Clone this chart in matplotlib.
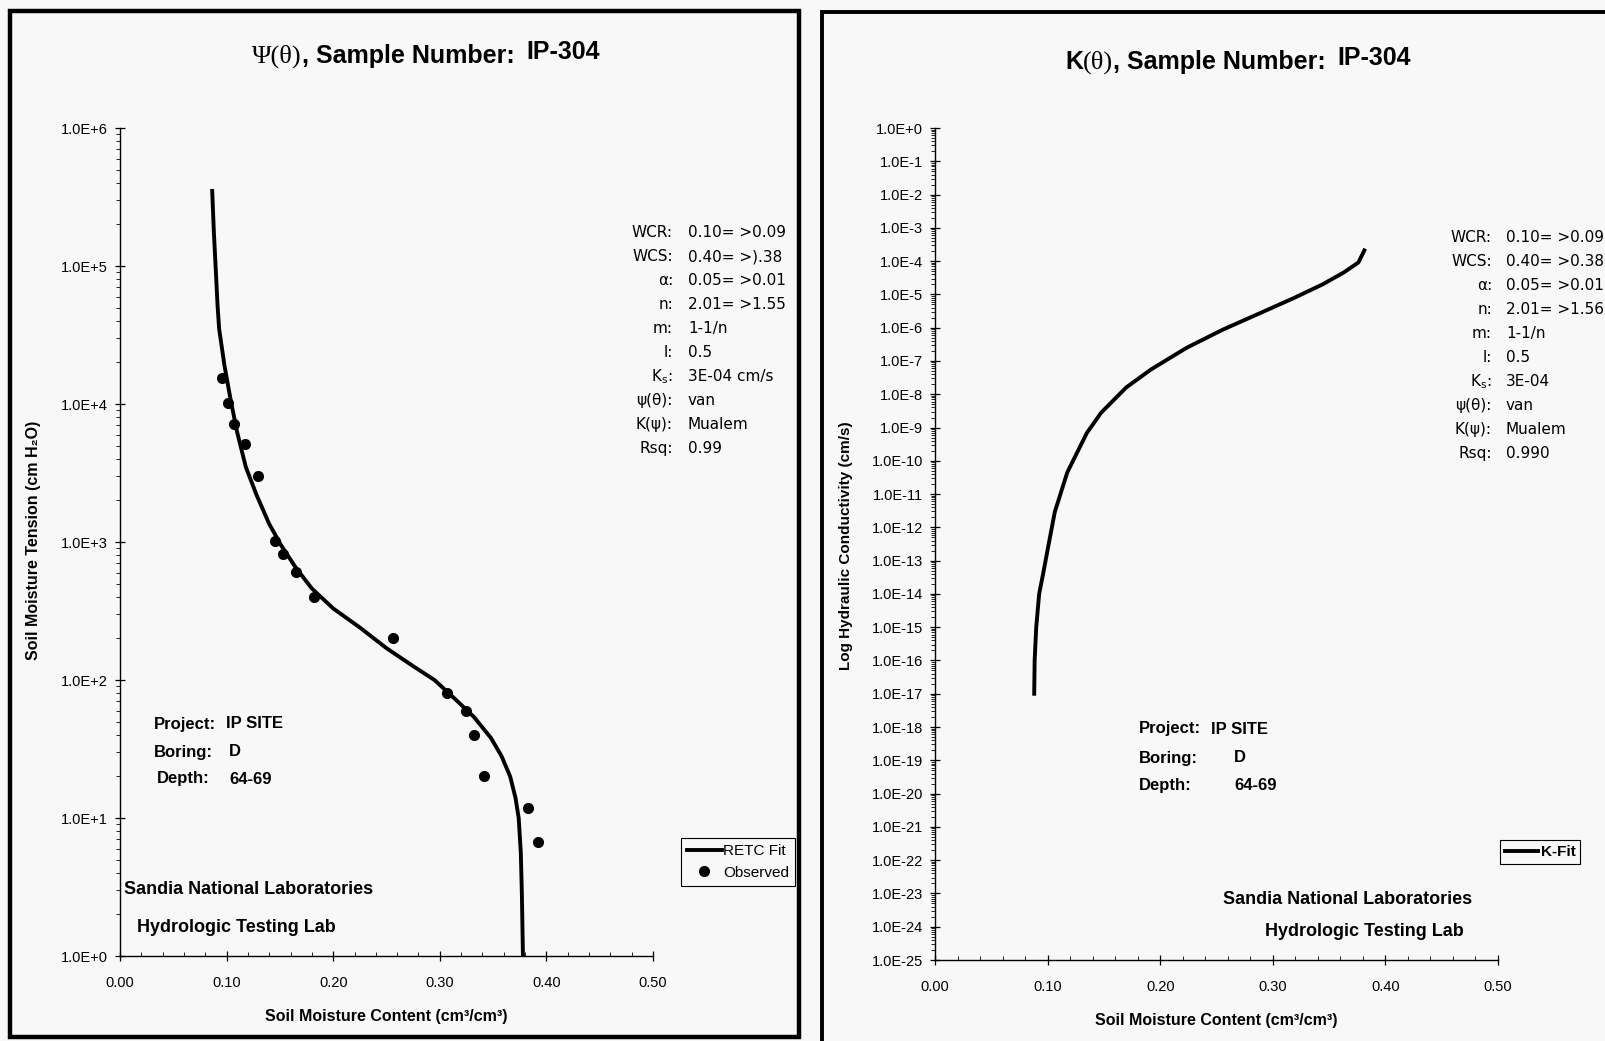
import numpy as np
import matplotlib
matplotlib.use('Agg')
import matplotlib.pyplot as plt
from matplotlib.patches import Rectangle
from matplotlib.ticker import (FixedLocator, FuncFormatter, MultipleLocator,
                               LogLocator, NullFormatter)

W, H = 1606, 1041
plt.rcParams['font.family'] = ['Liberation Sans', 'DejaVu Sans']

# --- data ---
# Psi(theta): RETC fit curve
psi_fit_theta = [0.0865, 0.088, 0.090, 0.0915, 0.093, 0.098, 0.104, 0.110, 0.118, 0.128,
                 0.140, 0.151, 0.165, 0.180, 0.200, 0.225, 0.250, 0.275, 0.295,
                 0.315, 0.332, 0.348, 0.358, 0.366, 0.371, 0.374, 0.376, 0.377, 0.378]
psi_fit_h = [3.5e5, 1.8e5, 8.9e4, 5.2e4, 3.5e4, 1.9e4, 1.05e4, 6.2e3, 3.5e3, 2.2e3,
             1.35e3, 950, 650, 460, 330, 240, 170, 126, 100,
             72, 54, 38, 28, 20, 14, 10, 5.6, 2.8, 1.0]
# Psi(theta): observed points
obs_theta = [0.096, 0.101, 0.107, 0.117, 0.129, 0.145, 0.153, 0.165, 0.182,
             0.256, 0.307, 0.325, 0.332, 0.341, 0.383, 0.392]
obs_h = [15400, 10200, 7200, 5100, 3000, 1010, 820, 610, 400,
         200, 80, 60, 40, 20, 11.8, 6.7]
# K(theta): fitted conductivity
k_fit_theta = [0.0881, 0.0885, 0.0899, 0.0925, 0.0964, 0.1010, 0.1064, 0.1175,
               0.1349, 0.1476, 0.1698, 0.1920, 0.2236, 0.2555, 0.2872, 0.3188,
               0.3442, 0.3632, 0.3760, 0.3813]
k_fit_k = [1.0e-17, 1.0e-16, 1.0e-15, 1.0e-14, 4.7e-14, 3.2e-13, 2.9e-12, 4.5e-11,
           6.9e-10, 2.8e-09, 1.6e-08, 5.6e-08, 2.5e-07, 8.7e-07, 2.6e-06, 7.8e-06,
           2.0e-05, 4.6e-05, 9.1e-05, 2.1e-04]

param_labels = ['WCR:', 'WCS:', 'α:', 'n:', 'm:', 'l:', r'K$_\mathregular{s}$:',
                'ψ(θ):', 'K(ψ):', 'Rsq:']
psi_param_values = ['0.10= >0.09', '0.40= >).38', '0.05= >0.01', '2.01= >1.55',
                    '1-1/n', '0.5', '3E-04 cm/s', 'van', 'Mualem', '0.99']
k_param_values = ['0.10= >0.09', '0.40= >0.38', '0.05= >0.01', '2.01= >1.56',
                  '1-1/n', '0.5', '3E-04', 'van', 'Mualem', '0.990']
site_labels = ['Project:', 'Boring:', 'Depth:']
site_values = ['IP SITE', 'D', '64-69']
sample = 'IP-304'

fig = plt.figure(figsize=(W / 100, H / 100), dpi=100, facecolor='#f8f8f8')


def box(x0, x1, ytop, ybot):
    return [x0 / W, 1 - ybot / H, (x1 - x0) / W, (ybot - ytop) / H]


def put(x, y, s, **kw):
    return fig.text(x / W, 1 - y / H, s, **kw)


def chain(x, y, parts):
    # draw title pieces one after another, measuring each
    r = fig.canvas.get_renderer()
    for s, gap, dy, kw in parts:
        t = put(x + gap, y - dy, s, ha='left', va='baseline', **kw)
        x = t.get_window_extent(r).x1


def style(ax, lo, hi):
    ax.set_facecolor('none')
    ax.set_yscale('log')
    ax.set_xlim(0, 0.5)
    ax.set_ylim(10.0 ** lo, 10.0 ** hi)
    for s in ['top', 'right']:
        ax.spines[s].set_visible(False)
    for s in ['left', 'bottom']:
        ax.spines[s].set_linewidth(1.0)
    ax.xaxis.set_major_locator(MultipleLocator(0.1))
    ax.xaxis.set_minor_locator(MultipleLocator(0.02))
    ax.xaxis.set_major_formatter(FuncFormatter(lambda v, p: f'{v:.2f}'))
    ax.yaxis.set_major_locator(FixedLocator(10.0 ** np.arange(lo, hi + 1)))
    ax.yaxis.set_minor_locator(LogLocator(base=10, subs=np.arange(2, 10), numticks=500))
    ax.yaxis.set_minor_formatter(NullFormatter())
    ax.yaxis.set_major_formatter(
        FuncFormatter(lambda v, p: f'1.0E{int(round(np.log10(v))):+d}'))
    ax.tick_params(which='major', direction='inout', length=7, width=0.9, labelsize=10.5)
    ax.tick_params(axis='y', which='major', pad=5)
    ax.tick_params(axis='x', which='major', pad=11)
    ax.tick_params(which='minor', direction='out', length=3, width=0.6)
    ax.tick_params(axis='x', which='minor', direction='in', length=3)


# frames around the two sheets
fig.patches.append(Rectangle((10 / W, 1 - 1037 / H), 789 / W, 1026 / H, transform=fig.transFigure,
                             fill=False, lw=3.2, ec='black'))
fig.patches.append(Rectangle((822 / W, -0.02), 0.6, 1.02 - 12 / H, transform=fig.transFigure,
                             fill=False, lw=2.8, ec='black'))

# ---- left: Psi(theta) ----
ax1 = fig.add_axes(box(120, 653, 128, 956))
style(ax1, 0, 6)
ax1.plot(psi_fit_theta, psi_fit_h, color='black', lw=2.8, label='RETC Fit')
ax1.plot(obs_theta, obs_h, 'o', color='black', ms=7, label='Observed')
leg = ax1.legend(loc='center', bbox_to_anchor=(738 / W, 1 - 862 / H), bbox_transform=fig.transFigure,
                 fancybox=False, framealpha=1, edgecolor='black', fontsize=11,
                 handlelength=2.3, handletextpad=0.1, borderpad=0.4, labelspacing=0.5,
                 borderaxespad=0)
leg.get_frame().set_linewidth(0.8)
leg.get_frame().set_facecolor('#f8f8f8')

chain(252, 63, [('Ψ(θ)', 0, 0, dict(family='Liberation Serif', fontsize=19)),
                (', Sample Number:', 0, 0, dict(fontsize=18, fontweight='bold')),
                (sample, 12, 4, dict(fontsize=18, fontweight='bold'))])

put(34, 540, 'Soil Moisture Tension (cm H₂O)', rotation=90, ha='center', va='center',
    fontsize=11.5, fontweight='bold')
put(386, 1016, 'Soil Moisture Content (cm³/cm³)', ha='center', va='center',
    fontsize=11.5, fontweight='bold')

for i, (lab, val) in enumerate(zip(param_labels, psi_param_values)):
    y = 232.5 + 24.0 * i
    put(673, y, lab, ha='right', va='center', fontsize=11, family='DejaVu Sans')
    put(688, y, val, ha='left', va='center', fontsize=11, family='DejaVu Sans')

for lab, val, lx, vx, y in zip(site_labels, site_values, [154, 154, 157],
                               [226, 229, 229], [724, 752, 779]):
    put(lx, y, lab, ha='left', va='center', fontsize=12, fontweight='bold')
    put(vx, y, val, ha='left', va='center', fontsize=12, fontweight='bold')

put(124, 890, 'Sandia National Laboratories', ha='left', va='center', fontsize=13, fontweight='bold')
put(137, 927, 'Hydrologic Testing Lab', ha='left', va='center', fontsize=13, fontweight='bold')

# ---- right: K(theta) ----
ax2 = fig.add_axes(box(935, 1498, 128, 960))
style(ax2, -25, 0)
ax2.plot(k_fit_theta, k_fit_k, color='black', lw=2.8, label='K-Fit')
leg2 = ax2.legend(loc='center', bbox_to_anchor=(1540 / W, 1 - 852 / H), bbox_transform=fig.transFigure,
                  fancybox=False, framealpha=1, edgecolor='black',
                  prop=dict(size=11, weight='bold'),
                  handlelength=2.2, handletextpad=0.15, borderpad=0.3, borderaxespad=0)
leg2.get_frame().set_linewidth(0.8)
leg2.get_frame().set_facecolor('#f8f8f8')

chain(1065, 69, [('K', 0, 0, dict(fontsize=18, fontweight='bold')),
                 ('(θ)', 0, 0, dict(family='Liberation Serif', fontsize=19)),
                 (', Sample Number:', 0, 0, dict(fontsize=18, fontweight='bold')),
                 (sample, 12, 4, dict(fontsize=18, fontweight='bold'))])

put(846, 546, 'Log Hydraulic Conductivity (cm/s)', rotation=90, ha='center', va='center',
    fontsize=11, fontweight='bold')
put(1216, 1020, 'Soil Moisture Content (cm³/cm³)', ha='center', va='center',
    fontsize=11.5, fontweight='bold')

for i, (lab, val) in enumerate(zip(param_labels, k_param_values)):
    y = 237.6 + 24.0 * i
    put(1492, y, lab, ha='right', va='center', fontsize=11, family='DejaVu Sans')
    put(1506, y, val, ha='left', va='center', fontsize=11, family='DejaVu Sans')

for lab, val, vx, y in zip(site_labels, site_values, [1211, 1234, 1234], [729, 758, 785.5]):
    put(1139, y, lab, ha='left', va='center', fontsize=12, fontweight='bold')
    put(vx, y, val, ha='left', va='center', fontsize=12, fontweight='bold')

put(1223, 900, 'Sandia National Laboratories', ha='left', va='center', fontsize=13, fontweight='bold')
put(1265, 931, 'Hydrologic Testing Lab', ha='left', va='center', fontsize=13, fontweight='bold')

fig.savefig('out.png', dpi=100, facecolor=fig.get_facecolor())
